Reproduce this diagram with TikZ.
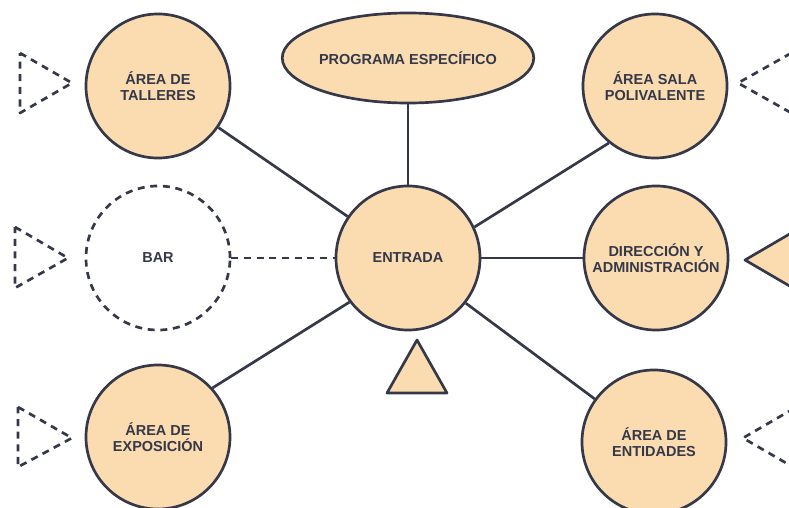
\documentclass[tikz,border=0pt]{standalone}
\usepackage{fontspec}
\setmainfont{Liberation Sans}
\usetikzlibrary{shapes.geometric}
\definecolor{melocoton}{HTML}{FADCB0}
\definecolor{tinta}{HTML}{353849}
\begin{document}
\begin{tikzpicture}[x=0.025cm, y=-0.025cm,
  espacio/.style={circle, draw=tinta, fill=melocoton, line width=1.9pt,
    minimum size=3.6cm, inner sep=0pt, align=center, text=tinta,
    font=\fontsize{10.3}{11.5}\selectfont\bfseries},
  libre/.style={espacio, fill=none, dash pattern=on 5pt off 4pt},
  enlace/.style={draw=tinta, line width=1.9pt},
  acceso/.style={draw=tinta, line width=1.9pt, line join=round}]
  \clip (0,0) rectangle (789,507);
  \node[espacio, ellipse, minimum width=5.75cm, minimum height=2.25cm] (programa) at (408,58) {PROGRAMA ESPECÍFICO};
  \node[espacio] (entrada) at (408,258) {ENTRADA};
  \node[espacio] (talleres) at (158,86) {ÁREA DE\\TALLERES};
  \node[libre] (bar) at (158,258) {BAR};
  \node[espacio] (exposicion) at (158,437) {ÁREA DE\\EXPOSICIÓN};
  \node[espacio] (polivalente) at (655,86) {ÁREA SALA\\POLIVALENTE};
  \node[espacio] (direccion) at (656,258) {DIRECCIÓN Y\\ADMINISTRACIÓN};
  \node[espacio] (entidades) at (654,442) {ÁREA DE\\ENTIDADES};
  % connectors
  \draw[enlace] (programa) -- (entrada);
  \draw[enlace] (talleres) -- (entrada);
  \draw[enlace, dash pattern=on 5pt off 4pt] (bar) -- (entrada);
  \draw[enlace] (exposicion.42) -- (entrada.217);
  \draw[enlace] (entrada.25) -- (polivalente.231);
  \draw[enlace] (entrada) -- (direccion);
  \draw[enlace] (entrada.322) -- (entidades.144);
  % accesses
  \draw[acceso, dash pattern=on 5pt off 4pt] (20,53) -- (72,83) -- (20,113) -- cycle;
  \draw[acceso, dash pattern=on 5pt off 4pt] (15,227) -- (68,258) -- (15,288) -- cycle;
  \draw[acceso, dash pattern=on 5pt off 4pt] (18,407) -- (72,438) -- (18,467) -- cycle;
  \draw[acceso, dash pattern=on 5pt off 4pt] (802,47) -- (738,83) -- (802,119) -- cycle;
  \draw[acceso, dash pattern=on 5pt off 4pt] (805,402) -- (743,438) -- (805,474) -- cycle;
  \draw[acceso, fill=melocoton] (805,225) -- (745,260) -- (805,295) -- cycle;
  \draw[acceso, fill=melocoton] (417,340) -- (447,393) -- (387,393) -- cycle;
\end{tikzpicture}
\end{document}
